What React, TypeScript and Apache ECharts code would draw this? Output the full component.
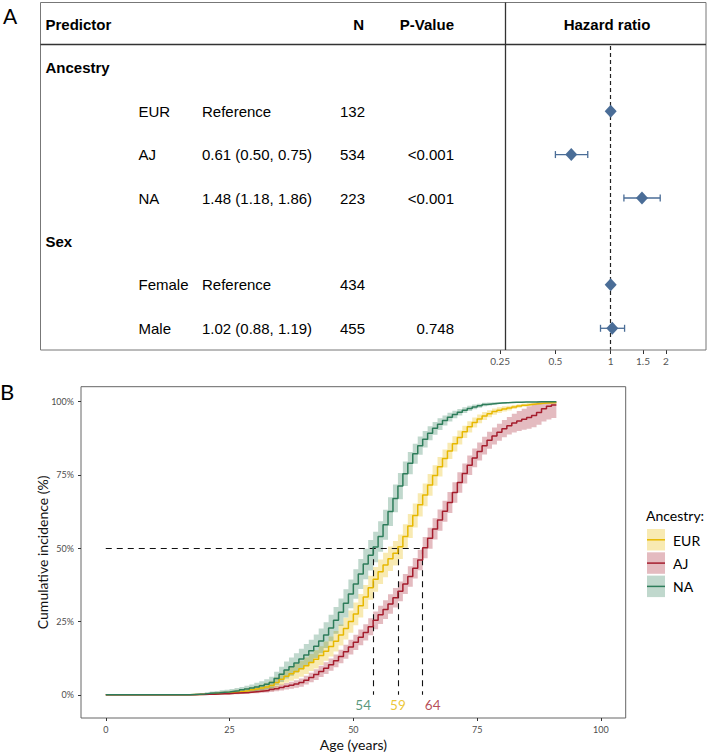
import React, { useEffect, useRef } from "react";
import * as echarts from "echarts";

// ---------- Panel A data ----------
const rowKeys = ["ancestry", "eur", "aj", "na", "sex", "female", "male"];
const groupLabels = ["Ancestry", "", "", "", "Sex", "", ""];
const levelLabels = ["", "EUR", "AJ", "NA", "", "Female", "Male"];
const estimateText = ["", "Reference", "0.61 (0.50, 0.75)", "1.48 (1.18, 1.86)", "", "Reference", "1.02 (0.88, 1.19)"];
const nText = ["", "132", "534", "223", "", "434", "455"];
const pText = ["", "", "<0.001", "<0.001", "", "", "0.748"];
const hr = [null, 1, 0.61, 1.48, null, 1, 1.02];
const hrLow = [null, null, 0.5, 1.18, null, null, 0.88];
const hrHigh = [null, null, 0.75, 1.86, null, null, 1.19];
const hrTicks = [0.25, 0.5, 1, 1.5, 2];

// ---------- Panel B data ----------
const ages = [0, 15, 16, 17, 18, 19, 20, 21, 22, 23, 24, 25, 26, 27, 28, 29, 30, 31, 32, 33, 34, 35, 36, 37, 38, 39, 40,
  41, 42, 43, 44, 45, 46, 47, 48, 49, 50, 51, 52, 53, 54, 55, 56, 57, 58, 59, 60, 61, 62, 63, 64, 65, 66, 67, 68, 69, 70,
  71, 72, 73, 74, 75, 76, 77, 78, 79, 80, 81, 82, 83, 84, 85, 86, 87, 88, 89, 90, 91];
const eurCum = [0, 0, 0, 0.1, 0.1, 0.2, 0.3, 0.4, 0.5, 0.6, 0.7,
  0.8, 1.0, 1.2, 1.4, 1.7, 2.0, 2.3, 2.7, 3.2, 4.2,
  5.3, 6.3, 7.2, 8.0, 8.9, 9.9, 11.0, 12.1, 13.4, 14.9,
  16.5, 18.3, 20.4, 22.6, 25.0, 27.6, 30.4, 33.4, 36.5, 39.4,
  42.0, 44.3, 46.4, 48.3, 50.5, 54.0, 57.6, 61.2, 64.8, 68.2,
  71.6, 74.8, 77.8, 80.6, 83.2, 85.6, 87.8, 89.7, 91.4, 92.9,
  94.1, 95.1, 95.9, 96.6, 97.1, 97.5, 97.8, 98.2, 98.5, 98.8,
  99.0, 99.2, 99.4, 99.5, 99.6, 99.7, 99.7];
const eurHalf = [0, 0, 0, 0.1, 0.1, 0.2, 0.3, 0.4, 0.4, 0.5, 0.5,
  0.6, 0.7, 0.8, 0.9, 1.0, 1.1, 1.2, 1.4, 1.6, 1.8,
  2.0, 2.2, 2.4, 2.5, 2.7, 2.8, 2.9, 3.1, 3.2, 3.3,
  3.4, 3.5, 3.6, 3.7, 3.8, 3.9, 4.0, 4.1, 4.1, 4.2,
  4.2, 4.2, 4.2, 4.2, 4.2, 4.2, 4.1, 4.1, 4.0, 3.9,
  3.7, 3.5, 3.3, 3.1, 2.8, 2.6, 2.4, 2.1, 1.9, 1.7,
  1.5, 1.4, 1.2, 1.1, 1.0, 0.9, 0.8, 0.7, 0.6, 0.5,
  0.5, 0.4, 0.4, 0.3, 0.3, 0.3, 0.3];
const ajCum = [0, 0, 0, 0, 0.1, 0.1, 0.2, 0.2, 0.3, 0.4, 0.4,
  0.5, 0.6, 0.7, 0.8, 1.0, 1.1, 1.3, 1.5, 1.8, 2.1,
  2.5, 2.9, 3.3, 3.7, 4.2, 5.0, 5.9, 6.9, 8.0, 9.1,
  10.3, 11.6, 13.1, 14.7, 16.3, 17.9, 19.6, 21.3, 23.2, 25.4,
  27.3, 29.1, 31.0, 33.1, 35.3, 37.8, 40.4, 43.2, 46.0, 50.2,
  53.4, 56.6, 59.6, 62.6, 65.6, 69.0, 72.4, 75.5, 78.3, 80.8,
  83.0, 85.0, 86.8, 88.3, 89.6, 90.8, 91.8, 92.7, 93.4, 94.0,
  94.6, 95.3, 96.3, 97.6, 98.4, 98.9, 98.9];
const ajHalf = [0, 0, 0, 0, 0.1, 0.1, 0.1, 0.2, 0.2, 0.2, 0.3,
  0.3, 0.4, 0.4, 0.5, 0.5, 0.6, 0.6, 0.7, 0.8, 0.9,
  1.0, 1.1, 1.2, 1.3, 1.4, 1.5, 1.6, 1.8, 1.9, 2.0,
  2.1, 2.2, 2.3, 2.4, 2.5, 2.6, 2.7, 2.8, 2.9, 3.0,
  3.1, 3.2, 3.3, 3.3, 3.4, 3.4, 3.5, 3.5, 3.5, 3.6,
  3.6, 3.6, 3.6, 3.6, 3.6, 3.5, 3.5, 3.4, 3.3, 3.2,
  3.1, 3.0, 2.9, 2.9, 2.9, 2.9, 3.0, 3.2, 3.4, 3.6,
  3.8, 4.0, 4.2, 4.4, 4.5, 4.5, 4.5];
const naCum = [0, 0, 0, 0.1, 0.2, 0.3, 0.5, 0.6, 0.7, 0.9, 1.0,
  1.2, 1.4, 1.7, 2.0, 2.3, 2.7, 3.1, 3.6, 4.2, 5.6,
  7.0, 8.5, 9.6, 10.9, 12.2, 13.6, 15.0, 16.6, 18.4, 20.4,
  22.8, 25.4, 28.2, 31.2, 34.4, 37.8, 41.2, 44.6, 47.6, 50.4,
  54.0, 58.0, 62.5, 67.0, 71.2, 75.4, 79.0, 82.2, 85.0, 87.2,
  89.2, 90.9, 92.3, 93.6, 94.7, 95.6, 96.4, 97.1, 97.7, 98.2,
  98.6, 99.0, 99.2, 99.4, 99.5, 99.6, 99.7, 99.8, 99.8, 99.9,
  99.9, 99.9, 100, 100, 100, 100, 100];
const naHalf = [0, 0, 0, 0.1, 0.2, 0.3, 0.4, 0.5, 0.6, 0.7, 0.7,
  0.8, 0.9, 1.0, 1.1, 1.2, 1.4, 1.5, 1.7, 2.0, 2.3,
  2.6, 2.9, 3.1, 3.3, 3.5, 3.7, 3.8, 4.0, 4.2, 4.4,
  4.5, 4.6, 4.7, 4.8, 4.9, 5.0, 5.1, 5.2, 5.2, 5.2,
  5.2, 5.1, 4.9, 4.7, 4.5, 4.2, 3.8, 3.4, 3.1, 2.8,
  2.4, 2.2, 2.0, 1.7, 1.5, 1.3, 1.1, 1.0, 0.9, 0.8,
  0.7, 0.6, 0.5, 0.4, 0.3, 0.3, 0.2, 0.2, 0.2, 0.1,
  0.1, 0.1, 0.1, 0.1, 0.1, 0.1, 0.1];
const groupNames = ["EUR", "AJ", "NA"];
const medians = [59, 64, 54];
const xTicksB = [0, 25, 50, 75, 100];
const yTicksB = [0, 25, 50, 75, 100];

// ---------- styles ----------
const W = 709;
const H = 754;
const fontA = '"Liberation Sans", Arial, Helvetica, sans-serif';
const fontB = 'Lato, "Open Sans", "Noto Sans", sans-serif';
const hrColor = "#4a6d97";
const lineColors = ["#E7B800", "#A51D2D", "#2E7D5B"];
const bandColors = ["rgba(231,184,0,0.3)", "rgba(165,29,45,0.3)", "rgba(46,125,91,0.3)"];
const labelDx = [0, 10, -10];

const tblTop = 46;
const tblBottom = 350;
const rowH = (tblBottom - tblTop) / rowKeys.length;

function txt(text: string, x: number, y: number, font: string, align = "left", fill = "#000") {
  return {
    type: "text",
    silent: true,
    z: 50,
    style: { text, x, y, font, fill, align, verticalAlign: "middle", textAlign: align, textVerticalAlign: "middle" },
  };
}

export default function App() {
  const ref = useRef<HTMLDivElement>(null);

  useEffect(() => {
    const chart = echarts.init(ref.current!, null, { renderer: "svg" });

    const cums = [eurCum, ajCum, naCum];
    const halves = [eurHalf, ajHalf, naHalf];

    const bandSeries = cums.map((cum, gi) => {
      const lo = cum.map((v, i) => Math.max(0, v - halves[gi][i]));
      const hi = cum.map((v, i) => Math.min(100, v + halves[gi][i]));
      return {
        type: "custom",
        name: groupNames[gi] + " CI",
        xAxisIndex: 1,
        yAxisIndex: 1,
        z: 1,
        silent: true,
        encode: { x: 0, y: [1, 2] },
        data: ages.map((a, i) => [a, lo[i], hi[i]]),
        renderItem: (params: any, api: any) => {
          if (params.dataIndex !== 0) return null;
          const pts: number[][] = [];
          const n = ages.length;
          for (let i = 0; i < n; i++) {
            if (i > 0) pts.push(api.coord([ages[i], hi[i - 1]]));
            pts.push(api.coord([ages[i], hi[i]]));
          }
          for (let i = n - 1; i >= 0; i--) {
            pts.push(api.coord([ages[i], lo[i]]));
            if (i > 0) pts.push(api.coord([ages[i], lo[i - 1]]));
          }
          return { type: "polygon", shape: { points: pts }, style: { fill: bandColors[gi], stroke: "none" } };
        },
      };
    });

    const maxMedian = Math.max(...medians);
    const lineSeries = cums.map((cum, gi) => ({
      type: "line",
      name: groupNames[gi],
      xAxisIndex: 1,
      yAxisIndex: 1,
      step: "end",
      symbol: "none",
      z: 4,
      silent: true,
      lineStyle: { color: lineColors[gi], width: 1.5 },
      data: ages.map((a, i) => [a, cum[i]]),
      markLine:
        gi === 2
          ? {
              silent: true,
              symbol: "none",
              z: 3,
              label: { show: false },
              lineStyle: { color: "#111", width: 1.1, type: [6, 5] },
              data: [
                [{ coord: [0, 50] }, { coord: [maxMedian, 50] }],
                ...medians.map((m) => [{ coord: [m, 50] }, { coord: [m, 0] }]),
              ],
            }
          : undefined,
    }));

    const medianLabels = {
      type: "scatter",
      xAxisIndex: 1,
      yAxisIndex: 1,
      symbolSize: 0,
      silent: true,
      z: 6,
      data: medians.map((m, gi) => ({
        value: [m, 0],
        label: {
          show: true,
          position: "inside",
          offset: [labelDx[gi], 10],
          color: lineColors[gi],
          fontSize: 13.5,
          fontFamily: fontB,
          formatter: String(m),
        },
      })),
    };

    // forest data
    const diamondData: any[] = [];
    const errData: any[] = [];
    hr.forEach((v, i) => {
      if (v != null) diamondData.push([Math.log2(v), i]);
      if (hrLow[i] != null && hrHigh[i] != null) errData.push([Math.log2(hrLow[i] as number), Math.log2(hrHigh[i] as number), i]);
    });

    const forestLeft = 480;
    const forestRight = 706;
    const onePx = 610.7;
    const pxPerLog2 = 55.3;

    const graphics: any[] = [];
    // panel letters
    graphics.push(txt("A", 3, 15, `21px ${fontB}`));
    graphics.push(txt("B", 0, 391, `22px ${fontB}`));
    // table box
    graphics.push({ type: "rect", silent: true, z: 40, shape: { x: 40.5, y: 2.5, width: 665.5, height: 347.5 }, style: { fill: "none", stroke: "#777", lineWidth: 1 } });
    graphics.push({ type: "line", silent: true, z: 41, shape: { x1: 40.5, y1: 44.5, x2: 706, y2: 44.5 }, style: { stroke: "#333", lineWidth: 1.3 } });
    graphics.push({ type: "line", silent: true, z: 41, shape: { x1: 505.5, y1: 2.5, x2: 505.5, y2: 350 }, style: { stroke: "#333", lineWidth: 1.3 } });
    // header
    const hb = `bold 15px ${fontA}`;
    const hn = `15px ${fontA}`;
    graphics.push(txt("Predictor", 45.5, 24, hb));
    graphics.push(txt("N", 364, 24, hb, "right"));
    graphics.push(txt("P-Value", 454, 24, hb, "right"));
    graphics.push(txt("Hazard ratio", 607, 24, hb, "center"));
    rowKeys.forEach((_, i) => {
      const y = tblTop + rowH * (i + 0.5);
      if (groupLabels[i]) graphics.push(txt(groupLabels[i], 45.5, y, hb));
      if (levelLabels[i]) graphics.push(txt(levelLabels[i], 138.5, y, hn));
      if (estimateText[i]) graphics.push(txt(estimateText[i], 202, y, hn));
      if (nText[i]) graphics.push(txt(nText[i], 365, y, hn, "right"));
      if (pText[i]) graphics.push(txt(pText[i], 454, y, hn, "right"));
    });
    // legend
    graphics.push(txt("Ancestry:", 646, 515, `14px ${fontB}`));
    groupNames.forEach((g, gi) => {
      const y0 = 529 + 23.3 * gi;
      graphics.push({ type: "rect", silent: true, z: 40, shape: { x: 647, y: y0, width: 18, height: 21.5 }, style: { fill: bandColors[gi] } });
      graphics.push({ type: "line", silent: true, z: 41, shape: { x1: 647, y1: y0 + 10.8, x2: 665, y2: y0 + 10.8 }, style: { stroke: lineColors[gi], lineWidth: 1.5 } });
      graphics.push(txt(g, 673, y0 + 11, `14px ${fontB}`));
    });

    const option: any = {
      animation: false,
      backgroundColor: "#fff",
      textStyle: { fontFamily: fontB },
      grid: [
        {
          left: forestLeft,
          top: tblTop,
          width: forestRight - forestLeft,
          height: tblBottom - tblTop,
          outerBoundsMode: "none",
          containLabel: false,
        },
        {
          left: 81,
          top: 386.7,
          width: 625.7 - 81,
          height: 718 - 386.7,
          show: true,
          borderColor: "#666",
          borderWidth: 1,
          backgroundColor: "transparent",
          outerBoundsMode: "none",
          containLabel: false,
        },
      ],
      xAxis: [
        {
          type: "value",
          gridIndex: 0,
          position: "bottom",
          min: (forestLeft - onePx) / pxPerLog2,
          max: (forestRight - onePx) / pxPerLog2,
          axisLine: { show: false, onZero: false },
          splitLine: { show: false },
          axisTick: { show: true, length: 4, lineStyle: { color: "#333", width: 1 }, customValues: hrTicks.map((t) => Math.log2(t)) },
          axisLabel: {
            show: true,
            margin: 6,
            fontSize: 10,
            color: "#555",
            fontFamily: fontB,
            customValues: hrTicks.map((t) => Math.log2(t)),
            formatter: (v: number) => String(Number(Math.pow(2, v).toPrecision(3))),
          },
        },
        {
          type: "value",
          gridIndex: 1,
          position: "bottom",
          min: -5,
          max: 105,
          name: "Age (years)",
          nameLocation: "middle",
          nameGap: 19,
          nameMoveOverlap: false,
          nameTextStyle: { fontSize: 14, color: "#111", fontFamily: fontB },
          axisLine: { show: false, onZero: false },
          splitLine: { show: false },
          axisTick: { show: true, length: 3, lineStyle: { color: "#333" }, customValues: xTicksB },
          axisLabel: { margin: 7, fontSize: 9, color: "#4d4d4d", fontFamily: fontB, customValues: xTicksB },
        },
      ],
      yAxis: [
        {
          type: "category",
          gridIndex: 0,
          data: rowKeys,
          inverse: true,
          show: false,
          axisLine: { onZero: false },
        },
        {
          type: "value",
          gridIndex: 1,
          position: "left",
          min: -7.9,
          max: 105.1,
          name: "Cumulative incidence (%)",
          nameLocation: "middle",
          nameRotate: 90,
          nameGap: 32,
          nameMoveOverlap: false,
          nameTextStyle: { fontSize: 14, color: "#111", fontFamily: fontB },
          axisLine: { show: false, onZero: false },
          splitLine: { show: false },
          axisTick: { show: true, length: 3, lineStyle: { color: "#333" }, customValues: yTicksB },
          axisLabel: { margin: 7, fontSize: 9, color: "#4d4d4d", fontFamily: fontB, customValues: yTicksB, formatter: "{value}%" },
        },
      ],
      series: [
        {
          type: "custom",
          name: "HR CI",
          xAxisIndex: 0,
          yAxisIndex: 0,
          z: 5,
          silent: true,
          encode: { x: [0, 1], y: 2 },
          data: errData,
          renderItem: (params: any, api: any) => {
            const y = api.value(2);
            const p1 = api.coord([api.value(0), y]);
            const p2 = api.coord([api.value(1), y]);
            const cap = 3.5;
            const st = { stroke: hrColor, lineWidth: 1.3 };
            return {
              type: "group",
              children: [
                { type: "line", shape: { x1: p1[0], y1: p1[1], x2: p2[0], y2: p2[1] }, style: st },
                { type: "line", shape: { x1: p1[0], y1: p1[1] - cap, x2: p1[0], y2: p1[1] + cap }, style: st },
                { type: "line", shape: { x1: p2[0], y1: p2[1] - cap, x2: p2[0], y2: p2[1] + cap }, style: st },
              ],
            };
          },
        },
        {
          type: "scatter",
          name: "HR",
          xAxisIndex: 0,
          yAxisIndex: 0,
          symbol: "diamond",
          symbolSize: [12, 13],
          z: 6,
          silent: true,
          itemStyle: { color: hrColor, opacity: 1 },
          data: diamondData,
          markLine: {
            silent: true,
            symbol: "none",
            z: 4,
            label: { show: false },
            lineStyle: { color: "#222", width: 1.2, type: [4, 3] },
            data: [{ xAxis: Math.log2(1) }],
          },
        },
        ...bandSeries,
        ...lineSeries,
        medianLabels,
      ],
      graphic: { elements: graphics },
    };

    chart.setOption(option);
    return () => chart.dispose();
  }, []);

  return <div ref={ref} style={{ position: "absolute", left: 0, top: 0, width: W, height: H, background: "#fff" }} />;
}
